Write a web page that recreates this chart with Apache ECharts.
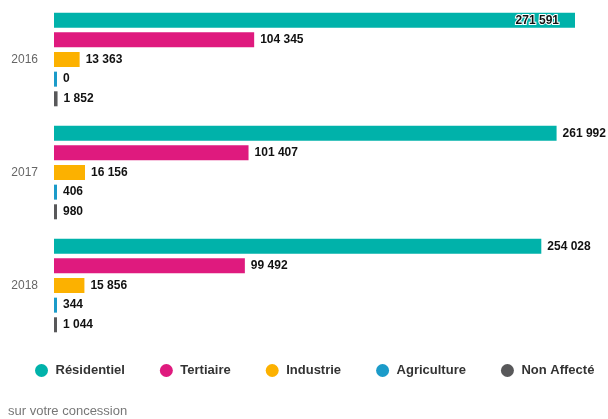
<!DOCTYPE html>
<html>
<head>
<meta charset="utf-8">
<script src="https://cdn.jsdelivr.net/npm/echarts@6/dist/echarts.min.js"></script>
<style>
html,body{margin:0;padding:0;background:#fff;}
#c{width:608px;height:419px;}
</style>
</head>
<body>
<div id="c"></div>
<script>
const categories = ['2016', '2017', '2018'];
const seriesNames = ['Résidentiel', 'Tertiaire', 'Industrie', 'Agriculture', 'Non Affecté'];
const residentiel = [271591, 261992, 254028];
const tertiaire = [104345, 101407, 99492];
const industrie = [13363, 16156, 15856];
const agriculture = [0, 406, 344];
const nonAffecte = [1852, 980, 1044];
const colors = ['#00b2aa', '#df1a7e', '#fcb100', '#1b9bc9', '#58585a'];
const values = [residentiel, tertiaire, industrie, agriculture, nonAffecte];

const FONT = '"Liberation Sans", Arial, Helvetica, sans-serif';
function fmt(v) {
  return String(v).replace(/\B(?=(\d{3})+(?!\d))/g, ' ');
}
const maxVal = Math.max(...residentiel);

const chart = echarts.init(document.getElementById('c'), null, {renderer: 'canvas'});
const series = seriesNames.map((name, i) => ({
  name: name,
  type: 'bar',
  barWidth: 15,
  barGap: '31%',
  barMinHeight: 3,
  itemStyle: {color: colors[i]},
  label: {
    show: true,
    position: 'right',
    distance: 6,
    fontFamily: FONT,
    fontSize: 12,
    fontWeight: 'bold',
    color: '#111',
    textBorderColor: '#fff',
    textBorderWidth: 2,
    formatter: p => fmt(p.value)
  },
  data: values[i].map(v => (v >= maxVal * 0.99 && v > 0) ? {
    value: v,
    label: {position: 'insideRight', distance: 16}
  } : v)
}));

chart.setOption({
  animation: false,
  color: colors,
  title: {
    text: 'sur votre concession',
    left: 8,
    top: 405,
    padding: 0,
    textStyle: {fontFamily: FONT, fontSize: 13, fontWeight: 'normal', color: '#777'}
  },
  legend: {
    data: seriesNames,
    left: 35,
    top: 364,
    icon: 'circle',
    itemWidth: 18,
    itemHeight: 13,
    itemGap: 35,
    padding: 0,
    textStyle: {fontFamily: FONT, fontSize: 13, fontWeight: 'bold', color: '#333'}
  },
  grid: {left: 54, right: 33, top: 3, bottom: 77, containLabel: false},
  xAxis: {
    type: 'value',
    min: 0,
    max: maxVal,
    show: false
  },
  yAxis: {
    type: 'category',
    data: categories,
    inverse: true,
    axisLine: {show: false},
    axisTick: {show: false},
    splitLine: {show: false},
    axisLabel: {margin: 16, fontFamily: FONT, fontSize: 12, color: '#666'}
  },
  series: series
});
</script>
</body>
</html>
